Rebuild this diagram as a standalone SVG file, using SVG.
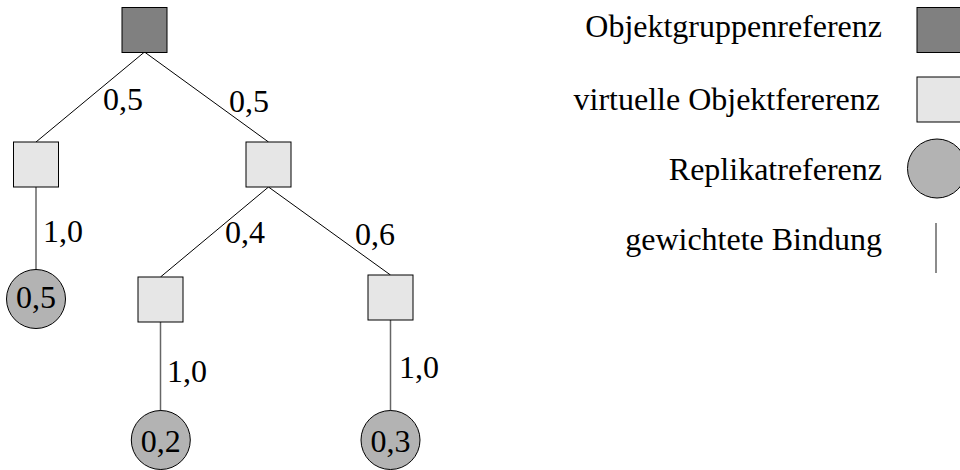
<svg xmlns="http://www.w3.org/2000/svg" width="960" height="470" viewBox="0 0 960 470">
  <style>
    .grp { fill: #808080; stroke: #000; stroke-width: 1; }
    .virt { fill: #e6e6e6; stroke: #000; stroke-width: 1; }
    .repl { fill: #b3b3b3; stroke: #000; stroke-width: 1; }
    .edge { stroke: #000; stroke-width: 1; fill: none; }
    .bind { stroke: #666; stroke-width: 1.5; fill: none; }
    .t { font-family: "Liberation Serif", "Times New Roman", serif; font-size: 32px; fill: #000; }
    .lg { text-anchor: end; }
    .mid { text-anchor: middle; }
  </style>

  <!-- connectors with weights -->
  <g id="connectors">
    <line class="edge" x1="144.5" y1="52" x2="36" y2="142"/>
    <line class="edge" x1="144.5" y1="52" x2="268.5" y2="142"/>
    <line class="bind" x1="36" y1="187" x2="36" y2="270"/>
    <line class="edge" x1="268.5" y1="187" x2="160.5" y2="277"/>
    <line class="edge" x1="268.5" y1="187" x2="390.5" y2="275"/>
    <line class="bind" x1="160.5" y1="322" x2="160.5" y2="411"/>
    <line class="bind" x1="390.5" y1="320" x2="390.5" y2="411"/>
    <text class="t" x="103" y="110">0,5</text>
    <text class="t" x="229" y="112">0,5</text>
    <text class="t" x="43" y="242">1,0</text>
    <text class="t" x="225" y="243">0,4</text>
    <text class="t" x="355" y="245">0,6</text>
    <text class="t" x="167" y="382">1,0</text>
    <text class="t" x="399" y="378">1,0</text>
  </g>

  <!-- tree nodes -->
  <g id="root"><rect class="grp" x="122" y="7.5" width="45" height="45"/></g>
  <g id="virt-left"><rect class="virt" x="13.5" y="142" width="45" height="45"/></g>
  <g id="virt-right"><rect class="virt" x="246" y="142" width="45" height="45"/></g>
  <g id="virt-rl"><rect class="virt" x="138" y="277" width="45" height="45"/></g>
  <g id="virt-rr"><rect class="virt" x="368" y="275" width="45" height="45"/></g>
  <g id="repl-05"><circle class="repl" cx="36" cy="299" r="29.5"/><text class="t mid" x="36" y="308">0,5</text></g>
  <g id="repl-02"><circle class="repl" cx="160.8" cy="440" r="29.5"/><text class="t mid" x="160.8" y="452">0,2</text></g>
  <g id="repl-03"><circle class="repl" cx="390.5" cy="440" r="29.5"/><text class="t mid" x="390.5" y="452">0,3</text></g>

  <!-- legend -->
  <g id="legend">
    <text class="t lg" x="882" y="37">Objektgruppenreferenz</text>
    <rect class="grp" x="917" y="7.5" width="45" height="45"/>
    <text class="t lg" x="880" y="110">virtuelle Objektfererenz</text>
    <rect class="virt" x="917" y="77" width="45" height="45"/>
    <text class="t lg" x="882" y="180">Replikatreferenz</text>
    <circle class="repl" cx="937" cy="168.5" r="29.5"/>
    <text class="t lg" x="882" y="250">gewichtete Bindung</text>
    <line class="bind" x1="936" y1="223" x2="936" y2="273"/>
  </g>
</svg>
